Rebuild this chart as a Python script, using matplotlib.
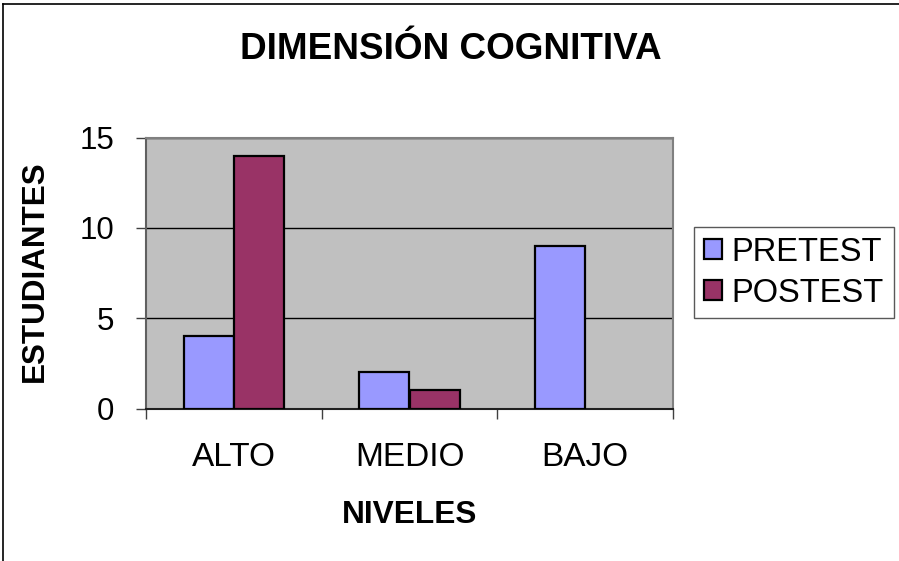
import matplotlib
matplotlib.use("Agg")
import matplotlib.pyplot as plt
from matplotlib.lines import Line2D
import numpy as np

categories = ["ALTO", "MEDIO", "BAJO"]
pretest = [4, 2, 9]
postest = [14, 1, 0]
series_names = ["PRETEST", "POSTEST"]
yticks = [0, 5, 10, 15]

plt.rcParams['font.family'] = ['Liberation Sans', 'DejaVu Sans']

W, H = 899, 561
fig = plt.figure(figsize=(W / 100, H / 100), dpi=100)
fig.patch.set_facecolor('white')

def fx(px):
    return px / W

def fy(py):
    return 1 - py / H

left, right, top, bottom = 146, 673, 137.5, 408.5
ax = fig.add_axes([fx(left), fy(bottom), fx(right - left), (bottom - top) / H])
ax.set_facecolor('#C0C0C0')

x = np.arange(len(categories))
w = 50 / 175.5

def edges(vals):
    return ['black' if v > 0 else 'none' for v in vals]

ax.bar(x - w / 2, pretest, w, color='#9999FF', edgecolor=edges(pretest), linewidth=1.6,
       label=series_names[0], zorder=3)
ax.bar(x + w / 2, postest, w, color='#993366', edgecolor=edges(postest), linewidth=1.6,
       label=series_names[1], zorder=3)

ax.set_xlim(-0.5, len(categories) - 0.5)
ax.set_ylim(0, 15)
ax.set_yticks(yticks)
ax.set_yticklabels([str(v) for v in yticks], fontsize=22.5)
ax.yaxis.grid(True, color='black', linewidth=1.0, zorder=1)
ax.set_axisbelow(True)

ax.set_xticks(x)
ax.set_xticklabels(categories, fontsize=24)
ax.set_xticks(np.arange(len(categories) + 1) - 0.5, minor=True)
ax.tick_params(axis='x', which='major', length=0, pad=24)
ax.tick_params(axis='x', which='minor', length=7, width=1.0, color='#404040')
ax.tick_params(axis='y', which='major', length=7, width=1.0, color='#404040', pad=16)

for s in ['top', 'right', 'left']:
    ax.spines[s].set_color('#808080')
    ax.spines[s].set_linewidth(1.5)
ax.spines['left'].set_color('#606060')
ax.spines['bottom'].set_color('#202020')
ax.spines['bottom'].set_linewidth(1.5)

fig.text(fx(451), fy(59), "DIMENSIÓN COGNITIVA", fontsize=26.6, fontweight='bold',
         ha='center', va='baseline')
fig.text(fx(410), fy(523), "NIVELES", fontsize=22.8, fontweight='bold',
         ha='center', va='baseline')
fig.text(fx(35), fy(271), "ESTUDIANTES", fontsize=22.6, fontweight='bold',
         ha='center', va='center', rotation=90)

leg = fig.legend(loc='upper left', bbox_to_anchor=(fx(694), fy(227)), borderaxespad=0,
                 fontsize=23.5, frameon=True, fancybox=False, handlelength=0.55,
                 handleheight=0.55, handletextpad=0.3, borderpad=0.3, labelspacing=0.3)
leg.get_frame().set_edgecolor('#303030')
leg.get_frame().set_linewidth(1.0)
for p in leg.get_patches():
    p.set_edgecolor('black')
    p.set_linewidth(1.6)

# outer chart border
fig.add_artist(Line2D([fx(2.5), fx(2.5)], [fy(3.5), 0], color='black', linewidth=1.2,
                      transform=fig.transFigure))
fig.add_artist(Line2D([fx(2.5), 1], [fy(3.5), fy(3.5)], color='black', linewidth=1.2,
                      transform=fig.transFigure))

fig.savefig("out.png", dpi=100, facecolor='white')
